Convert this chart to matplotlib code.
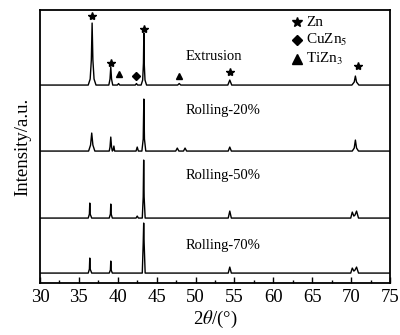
import matplotlib
matplotlib.use('Agg')
import matplotlib.pyplot as plt
from matplotlib.ticker import MultipleLocator

plt.rcParams['font.family'] = ['Liberation Serif', 'DejaVu Serif']
plt.rcParams['mathtext.fontset'] = 'stix'

# XRD patterns (2theta, intensity in a.u.)
ext_x = [30, 36.2, 36.45, 36.6, 36.7, 36.8, 36.95, 37.2, 38.85, 39.0, 39.1, 39.2, 39.35,
         39.95, 40.1, 40.25, 42.25, 42.4, 42.55, 43.0, 43.2, 43.3, 43.35, 43.4, 43.5, 43.7,
         47.7, 47.9, 48.1, 54.15, 54.4, 54.65, 70.1, 70.4, 70.55, 70.7, 71.0, 75]
ext_y = [0, 0, 6, 25, 62, 25, 6, 0, 0, 6, 18, 6, 0,
         0, 1.5, 0, 0, 1.5, 0, 0, 5, 22, 52, 22, 5, 0,
         0, 1.5, 0, 0, 5, 0, 0, 3, 9, 3, 0, 0]

r20_x = [30, 36.25, 36.5, 36.65, 36.8, 37.05, 38.9, 39.0, 39.1, 39.2, 39.3, 39.4, 39.5, 39.6,
         42.35, 42.5, 42.65, 43.1, 43.27, 43.35, 43.43, 43.6, 47.45, 47.65, 47.85,
         48.45, 48.65, 48.85, 54.2, 54.4, 54.6, 70.15, 70.4, 70.55, 70.7, 70.95, 75]
r20_y = [0, 0, 6, 18, 6, 0, 0, 4, 14, 4, 0, 1, 5, 0,
         0, 4, 0, 0, 12, 52, 12, 0, 0, 3, 0,
         0, 3, 0, 0, 4, 0, 0, 3, 11, 3, 0, 0]

r50_x = [30, 36.2, 36.35, 36.4, 36.45, 36.65, 38.9, 39.05, 39.1, 39.15, 39.3, 42.35, 42.5, 42.65,
         43.15, 43.27, 43.33, 43.39, 43.52, 54.2, 54.4, 54.6,
         69.95, 70.15, 70.35, 70.5, 70.7, 70.95, 75]
r50_y = [0, 0, 4, 15, 4, 0, 0, 4, 14, 4, 0, 0, 2, 0,
         0, 21, 58, 21, 0, 0, 7, 0,
         0, 6, 2, 3, 7, 0, 0]

r70_x = [30, 36.2, 36.35, 36.4, 36.45, 36.65, 38.9, 39.05, 39.1, 39.15, 39.3,
         43.15, 43.27, 43.33, 43.39, 43.52, 54.2, 54.4, 54.6,
         69.95, 70.15, 70.35, 70.5, 70.7, 70.95, 75]
r70_y = [0, 0, 4, 15, 4, 0, 0, 3, 12, 3, 0,
         0, 30, 50, 30, 0, 0, 6, 0,
         0, 5, 2, 3, 6, 0, 0]

offsets = [198, 132, 65, 10]
labels = ['Extrusion', 'Rolling-20%', 'Rolling-50%', 'Rolling-70%']
label_y = [227, 173, 108, 38]

# phase markers above the extrusion peaks
star_x = [36.7, 39.1, 43.35, 54.4, 70.9]
star_y = [267, 220, 254, 211, 217]
tri_x = [40.1, 47.9]
tri_y = [209, 207]
dia_x = [42.4]
dia_y = [207]

fig, ax = plt.subplots(figsize=(4.0, 3.35), dpi=100)
fig.subplots_adjust(left=0.1, right=0.975, top=0.97, bottom=0.155)

for (x, y), off in zip([(ext_x, ext_y), (r20_x, r20_y), (r50_x, r50_y), (r70_x, r70_y)], offsets):
    ax.plot(x, [v + off for v in y], color='black', lw=1.0)

for lab, ly in zip(labels, label_y):
    ax.text(48.7, ly, lab, fontsize=10.5, va='center', ha='left')

ax.plot(star_x, star_y, ls='none', marker='*', color='black', ms=6)
ax.plot(tri_x, tri_y, ls='none', marker='^', color='black', ms=5)
ax.plot(dia_x, dia_y, ls='none', marker='D', color='black', ms=4.5)

# legend drawn by hand
leg = [('*', 7.5, 'Zn'), ('D', 5.5, r'CuZn$_5$'), ('^', 6.5, r'TiZn$_3$')]
for i, (m, s, t) in enumerate(leg):
    yy = [0.955, 0.89, 0.82][i]
    ax.plot([0.735], [yy], transform=ax.transAxes, marker=m, ms=s, color='black', ls='none')
    ax.text(0.76, yy, t, transform=ax.transAxes, fontsize=11, va='center', ha='left')

ax.set_xlim(30, 75)
ax.set_ylim(0, 273)
ax.set_yticks([])
ax.xaxis.set_major_locator(MultipleLocator(5))
ax.xaxis.set_minor_locator(MultipleLocator(2.5))
ax.tick_params(axis='x', which='both', direction='in', labelsize=13.5, pad=4)
ax.tick_params(axis='x', which='major', length=4, width=1)
ax.tick_params(axis='x', which='minor', length=2.5, width=1)
for sp in ax.spines.values():
    sp.set_linewidth(1.3)

ax.set_xlabel(r'2$\theta$/(°)', fontsize=13.5, labelpad=2)
ax.set_ylabel('Intensity/a.u.', fontsize=13.5, labelpad=6)

fig.savefig('out.png', dpi=100)
